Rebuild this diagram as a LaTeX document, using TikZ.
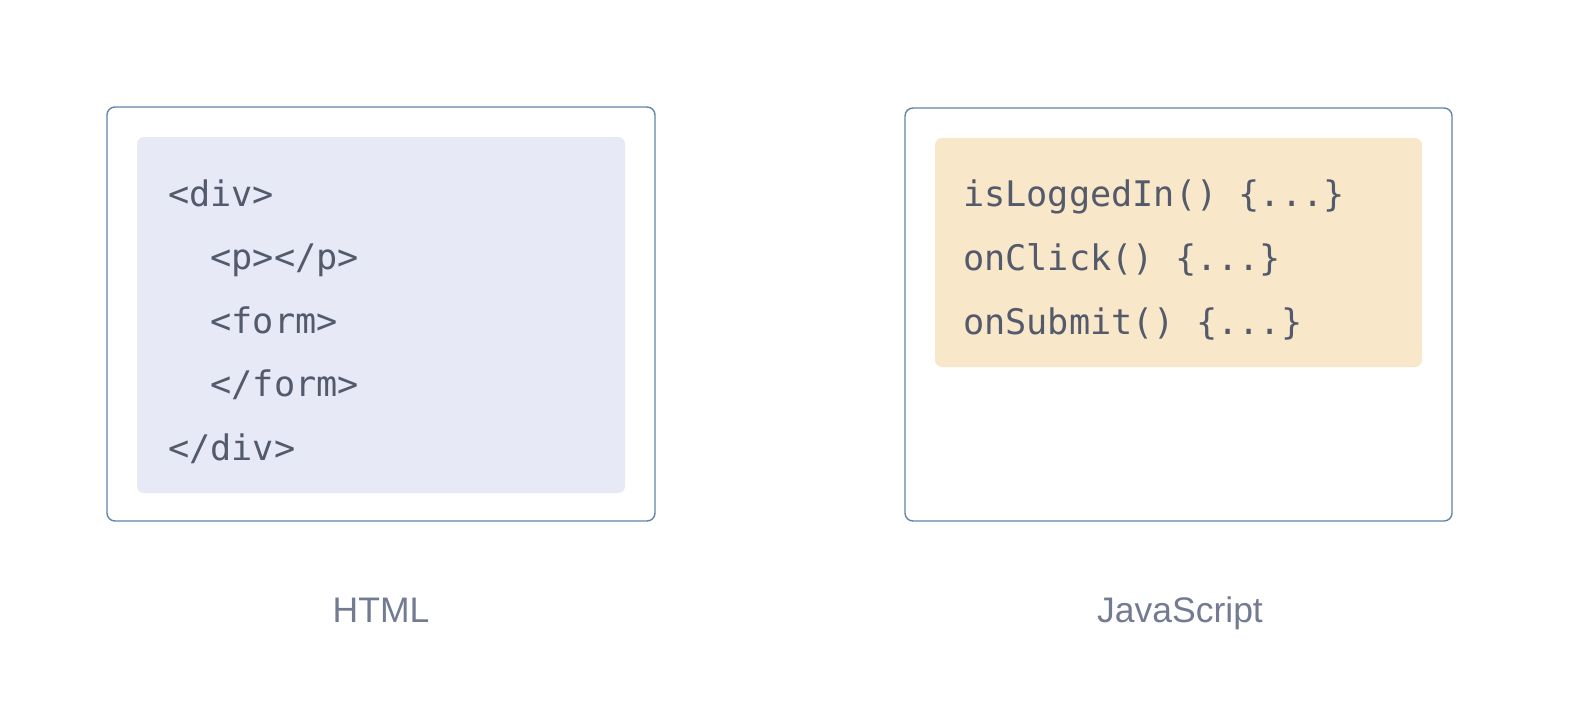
\documentclass[tikz,border=0pt]{standalone}
\usepackage{fontspec}
\setmonofont{DejaVu Sans Mono}
\setsansfont{Liberation Sans}
\definecolor{bordercol}{HTML}{6184A9}
\definecolor{htmlfill}{HTML}{E8E9F7}
\definecolor{jsfill}{HTML}{F9E7C9}
\definecolor{codecol}{HTML}{535A6B}
\definecolor{labelcol}{HTML}{737B93}
\tikzset{
  outerbox/.style={draw=bordercol, line width=1.4pt, rounded corners=8pt, fill=white},
  innerbox/.style={rounded corners=7pt},
  code/.style={anchor=base west, inner sep=0pt, text=codecol, font=\ttfamily\fontsize{35.2}{35.2}\selectfont},
  caption/.style={anchor=base, inner sep=0pt, text=labelcol, font=\sffamily\fontsize{35.5}{35.5}\selectfont},
}
\begin{document}
\begin{tikzpicture}[x=1pt,y=-1pt]
\useasboundingbox (0,0) rectangle (1592,710);
% left panel
\draw[outerbox] (107,107) rectangle (655,521);
\fill[innerbox, htmlfill] (137,137) rectangle (625,493);
\node[code] (h1) at (168,206) {<div>};
\node[code] (h2) at (168,269.5) {\ \ <p></p>};
\node[code] (h3) at (168,333) {\ \ <form>};
\node[code] (h4) at (168,396.5) {\ \ </form>};
\node[code] (h5) at (168,460) {</div>};
\node[caption] (lhtml) at (381,622) {HTML};
% right panel
\draw[outerbox] (905,108) rectangle (1452,521);
\fill[innerbox, jsfill] (935,138) rectangle (1422,367);
\node[code] (j1) at (963,206) {isLoggedIn() \{...\}};
\node[code] (j2) at (963,270) {onClick() \{...\}};
\node[code] (j3) at (963,334) {onSubmit() \{...\}};
\node[caption] (ljs) at (1180,622) {JavaScript};
\end{tikzpicture}
\end{document}
